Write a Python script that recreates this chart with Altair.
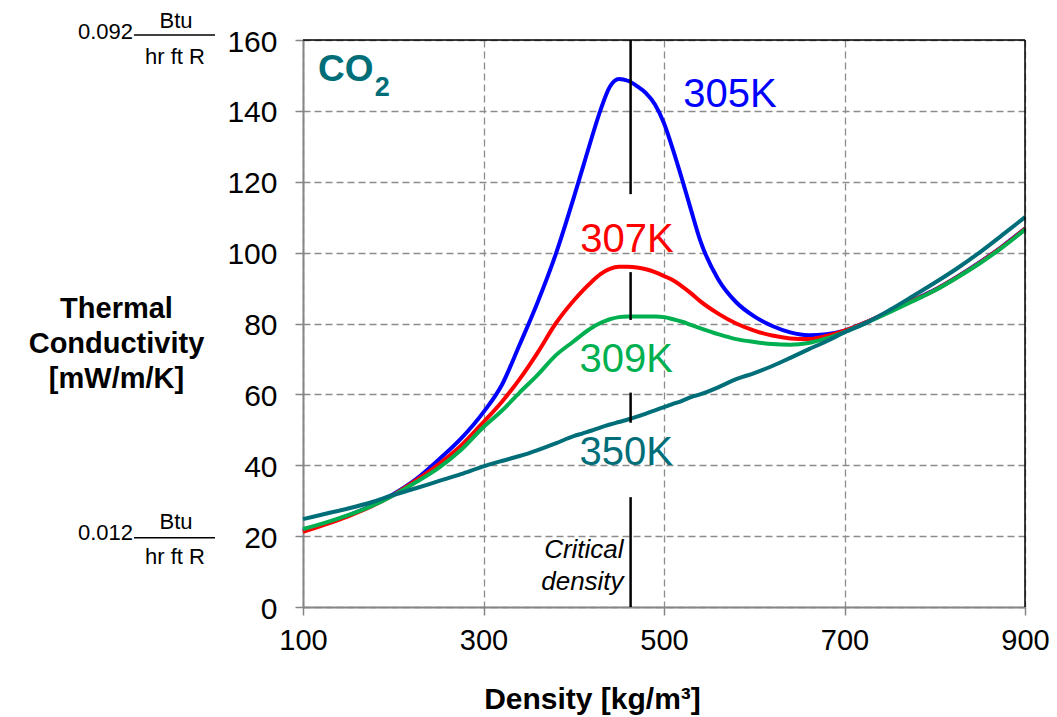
import altair as alt
import pandas as pd

density = [100, 125, 150, 175, 200, 225, 250, 275, 300,
           320, 340, 360, 380, 400,
           410, 420, 430, 440, 450, 460, 470, 480, 490, 500, 510, 520, 530, 540,
           560, 580, 600, 620, 640, 660, 680, 700,
           725, 750, 775, 800, 825, 850, 875, 900]

k305 = [21.5, 23.5, 25.8, 28.5, 31.8, 36.0, 41.5, 47.5, 55.0,
        62.5, 74.0, 86.0, 99.5, 115.5,
        124.0, 132.5, 140.5, 146.8, 149.0, 148.5, 147.0, 145.0, 141.8, 136.5, 129.0, 120.7, 112.0, 103.5,
        92.5, 86.0, 82.0, 79.3, 77.5, 76.7, 77.0, 78.0,
        80.5, 83.5, 86.5, 89.5, 93.2, 97.3, 101.8, 106.8]

k307 = [21.2, 23.3, 25.6, 28.3, 31.6, 35.7, 40.2, 45.5, 52.2,
        57.8, 64.3, 71.8, 80.0, 86.5,
        89.3, 91.8, 94.0, 95.4, 96.0, 96.0, 95.8, 95.3, 94.5, 93.4, 92.2, 90.5, 88.5, 86.3,
        82.8, 80.0, 78.0, 76.6, 75.8, 75.6, 76.5, 78.0,
        80.5, 83.4, 86.4, 89.4, 93.1, 97.2, 101.7, 106.7]

k309 = [22.0, 23.8, 25.9, 28.4, 31.5, 35.2, 39.2, 44.3, 50.8,
        55.3, 60.5, 65.5, 71.0, 75.0,
        77.0, 78.8, 80.2, 81.2, 81.8, 82.0, 82.0, 82.0, 82.0, 81.8, 81.2, 80.5, 79.6, 78.7,
        77.0, 75.6, 74.8, 74.2, 74.0, 74.5, 75.8, 77.6,
        80.3, 83.2, 86.2, 89.3, 93.0, 97.0, 101.5, 106.5]

k350 = [24.8, 26.3, 27.8, 29.5, 31.6, 33.5, 35.5, 37.5, 39.7,
        41.2, 42.6, 44.3, 46.2, 48.2,
        49.0, 49.8, 50.7, 51.5, 52.2, 52.9, 53.7, 54.6, 55.5, 56.4, 57.3, 58.2, 59.2, 60.0,
        62.0, 64.3, 66.0, 68.0, 70.3, 72.7, 75.0, 77.5,
        80.3, 83.8, 87.6, 91.5, 95.6, 100.1, 105.0, 110.0]

series_names = ["305K", "307K", "309K", "350K"]
series_colors = ["#0000FF", "#FF0000", "#00B050", "#006E78"]

label_density = [573, 459, 458, 458]
label_value = [144.5, 103.5, 69.6, 43.5]

critical_density = 463
crit_start = [160, 94.5, 60.5, 31]
crit_end = [116.5, 81, 52, 0]

y_ticks = [0, 20, 40, 60, 80, 100, 120, 140, 160]
x_ticks = [100, 300, 500, 700, 900]

W, H = 722, 567
FONT = "Liberation Sans"

rows = []
for name, vals in zip(series_names, [k305, k307, k309, k350]):
    for d, v in zip(density, vals):
        rows.append({"density": d, "k": v, "series": name})
df = pd.DataFrame(rows)

xscale = alt.Scale(domain=[100, 900], nice=False, zero=False)
yscale = alt.Scale(domain=[0, 160], nice=False)
cscale = alt.Scale(domain=series_names, range=series_colors)

x_enc = alt.X("density:Q", scale=xscale,
              axis=alt.Axis(values=x_ticks, title="Density [kg/m³]",
                            labelFontSize=29, labelFont=FONT, labelColor="black",
                            labelPadding=11, labelFlush=False, labelOverlap=False,
                            tickSize=8, tickColor="#868686", tickWidth=1.5,
                            domainColor="#868686", domainWidth=2,
                            grid=True, gridDash=[7, 4], gridColor="#8C8C8C", gridWidth=1.3,
                            titleFont=FONT, titleFontSize=30, titleFontWeight="bold",
                            titleColor="black", titleX=289, titleY=101,
                            titleAlign="center", titleBaseline="alphabetic",
                            titleAnchor="start"))
y_enc = alt.Y("k:Q", scale=yscale,
              axis=alt.Axis(values=y_ticks, title=["Thermal", "Conductivity", "[mW/m/K]"],
                            labelFontSize=30, labelFont=FONT, labelColor="black",
                            labelPadding=18, labelOffset=2, labelFlush=False,
                            tickSize=8, tickColor="#868686",
                            tickWidth=1.5, domainColor="#868686", domainWidth=2,
                            grid=True, gridDash=[7, 4], gridColor="#8C8C8C", gridWidth=1.3,
                            titleFont=FONT, titleFontSize=29, titleFontWeight="bold",
                            titleColor="black", titleAngle=0, titleX=-187, titleY=268,
                            titleAlign="center", titleBaseline="middle",
                            titleLineHeight=35, titleAnchor="start"))

lines = alt.Chart(df).mark_line(strokeWidth=4, interpolate="monotone").encode(
    x=x_enc, y=y_enc,
    color=alt.Color("series:N", scale=cscale, legend=None),
)

crit_df = pd.DataFrame({"d": [critical_density] * len(crit_start), "y1": crit_start, "y2": crit_end})
crit = alt.Chart(crit_df).mark_rule(color="black", strokeWidth=2.5).encode(
    x=alt.X("d:Q", scale=xscale), y=alt.Y("y1:Q", scale=yscale), y2="y2:Q")

lab_df = pd.DataFrame({"d": label_density, "v": label_value, "t": series_names})
labels = alt.Chart(lab_df).mark_text(font=FONT, fontSize=40, align="center", baseline="middle").encode(
    x=alt.X("d:Q", scale=xscale), y=alt.Y("v:Q", scale=yscale), text="t:N",
    color=alt.Color("t:N", scale=cscale, legend=None))

co_df = pd.DataFrame({"d": [116.6], "v": [151.5], "t": ["CO"]})
co = alt.Chart(co_df).mark_text(font=FONT, fontSize=37, fontWeight="bold", align="left",
                                baseline="middle", color="#006E78").encode(
    x=alt.X("d:Q", scale=xscale), y=alt.Y("v:Q", scale=yscale), text="t:N")
sub_df = pd.DataFrame({"d": [179.5], "v": [146.5], "t": ["2"]})
sub = alt.Chart(sub_df).mark_text(font=FONT, fontSize=27, fontWeight="bold", align="left",
                                  baseline="middle", color="#006E78").encode(
    x=alt.X("d:Q", scale=xscale), y=alt.Y("v:Q", scale=yscale), text="t:N")

crit_txt_df = pd.DataFrame({"d": [critical_density] * 2, "v": [16.2, 7.0], "t": ["Critical", "density"]})
crit_txt = alt.Chart(crit_txt_df).mark_text(font=FONT, fontSize=26, fontStyle="italic", align="right",
                                           baseline="middle", dx=-7, color="black").encode(
    x=alt.X("d:Q", scale=xscale), y=alt.Y("v:Q", scale=yscale), text="t:N")

# unit annotations (left of the axis)
unit_vals = ["0.092", "0.012"]
unit_levels = [160, 20]
unit_dy = [-8, -3]
num_marks = []
btu_marks = []
for lvl, t, dyv, dline, dbtu, dhr in zip(unit_levels, unit_vals, unit_dy, [-5, 1.7], [-19.5, -14.5], [16.7, 21]):
    base = alt.Chart(pd.DataFrame({"v": [lvl], "t": [t]}))
    num_marks.append(base.mark_text(font=FONT, fontSize=22, align="right", baseline="middle",
                                    dy=dyv, color="black").encode(
        x=alt.value(-170), y=alt.Y("v:Q", scale=yscale), text="t:N"))
    btu_marks.append(base.mark_text(font=FONT, fontSize=22, align="center", baseline="middle",
                                    dy=dbtu, color="black").encode(
        x=alt.value(-127), y=alt.Y("v:Q", scale=yscale), text=alt.value("Btu")))
    btu_marks.append(base.mark_text(font=FONT, fontSize=22, align="center", baseline="middle",
                                    dy=dhr, color="black").encode(
        x=alt.value(-128), y=alt.Y("v:Q", scale=yscale), text=alt.value("hr ft R")))
    ypix = H - lvl / 160 * H + dline
    btu_marks.append(alt.Chart(pd.DataFrame({"v": [lvl]})).mark_rule(color="black", strokeWidth=1.5).encode(
        x=alt.value(-169), x2=alt.value(-88), y=alt.value(ypix)))

border = [
    alt.Chart(pd.DataFrame({"a": [0]})).mark_rule(color="black", strokeWidth=1.5).encode(
        x=alt.value(0), x2=alt.value(W), y=alt.value(0)),
    alt.Chart(pd.DataFrame({"a": [0]})).mark_rule(color="black", strokeWidth=1.5).encode(
        x=alt.value(W), y=alt.value(0), y2=alt.value(H)),
]

chart = alt.layer(lines, crit, labels, co, sub, crit_txt, *num_marks, *btu_marks, *border).properties(
    width=W, height=H,
    autosize=alt.AutoSizeParams(type="none"),
    padding={"left": 295, "top": 32, "right": 24, "bottom": 110},
).configure_view(stroke=None).configure(background="white")

chart.save("out.html", embed_options={"renderer": "svg", "actions": False})
